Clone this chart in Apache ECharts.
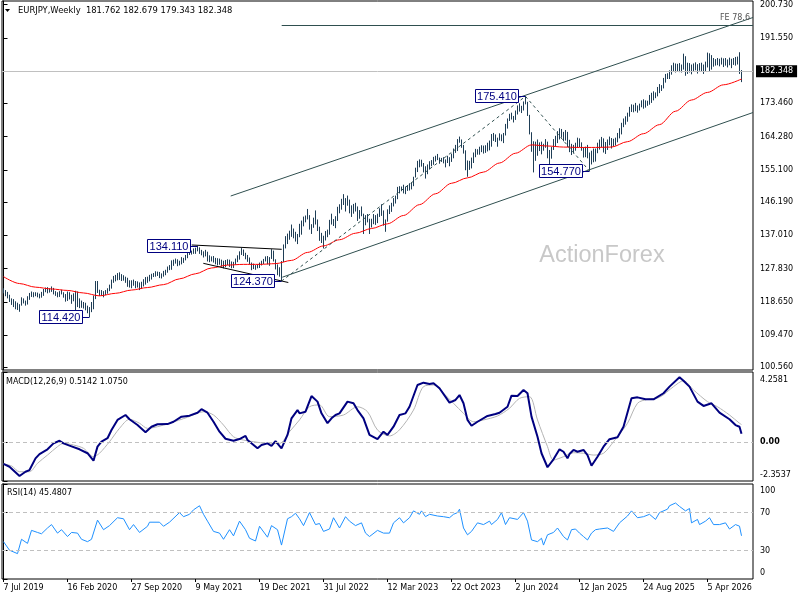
<!DOCTYPE html>
<html><head><meta charset="utf-8">
<script src="https://cdn.jsdelivr.net/npm/echarts@6/dist/echarts.min.js"></script>
<style>html,body{margin:0;padding:0;background:#fff}#c{width:800px;height:600px}</style>
</head><body><div id="c"></div>
<script>
// ---------- data ----------
const symbolName = 'EURJPY,Weekly';
const lastOHLC = ['181.762', '182.679', '179.343', '182.348'];
const lastPrice = 182.348;
const weekTickIdx = [0, 32, 64, 96, 128, 160, 192, 224, 256, 288, 320, 352];
const weekLabels = ['7 Jul 2019', '16 Feb 2020', '27 Sep 2020', '9 May 2021', '19 Dec 2021', '31 Jul 2022',
  '12 Mar 2023', '22 Oct 2023', '2 Jun 2024', '12 Jan 2025', '24 Aug 2025', '5 Apr 2026'];
const priceTicks = [200.730, 191.550, 173.460, 164.280, 155.100, 146.190, 137.010, 127.830, 118.650, 109.470, 100.560];
const macdTicks = [-2.3537, 0, 4.2581];
const rsiTicks = [0, 30, 70, 100];

const highs = [
122.4,121.9,121.4,120.6,119.6,119.4,118.8,118.4,118.0,119.9,
119.6,119.0,120.2,121.1,121.5,121.3,121.3,121.2,120.9,121.4,
122.2,122.6,122.7,122.4,122.9,122.5,121.6,121.3,121.6,122.0,
121.3,120.8,121.5,121.3,120.6,121.0,121.7,121.5,119.6,119.0,
118.6,118.4,117.6,117.2,118.6,120.4,124.4,124.4,122.0,121.9,
121.6,121.9,122.4,123.4,124.8,125.8,126.1,126.6,126.8,126.3,
126.0,125.6,125.3,124.6,124.6,124.8,124.4,124.3,124.0,124.2,
124.9,125.5,125.6,126.1,126.4,126.6,127.1,127.0,126.9,126.5,
127.2,127.5,128.4,128.8,130.1,130.3,130.6,130.4,130.0,131.0,
130.8,131.6,132.6,133.2,132.8,133.4,133.6,134.11,133.7,133.0,
132.6,133.0,132.5,131.5,131.2,131.3,130.8,130.7,130.6,130.3,
130.0,130.2,130.4,130.3,129.8,129.7,130.6,131.5,132.6,133.5,
133.1,132.2,131.6,130.9,129.5,129.2,128.8,129.0,129.5,130.0,
130.5,131.2,131.3,131.0,133.2,132.8,130.4,129.0,128.2,129.9,
134.5,136.8,137.5,138.3,140.0,138.9,138.0,137.4,140.2,141.1,
142.2,142.5,144.3,142.6,140.1,141.9,143.9,141.4,139.4,137.7,
136.9,138.2,138.6,141.3,143.0,141.5,142.3,144.9,145.6,147.1,
148.4,147.3,148.0,146.9,145.3,145.7,146.0,145.0,144.0,145.0,
143.0,142.6,142.9,141.6,141.6,142.9,142.6,143.0,144.5,145.6,
143.9,141.4,144.2,145.3,146.0,147.3,148.0,150.4,150.6,150.5,
151.0,150.5,150.9,151.4,151.6,153.2,155.7,157.6,158.0,157.9,
157.0,156.1,156.6,157.5,157.8,158.7,159.0,159.5,158.5,158.4,
158.6,158.0,159.0,158.6,159.6,161.0,162.0,163.6,164.3,163.5,
162.0,160.5,157.7,157.6,158.5,159.9,160.9,160.8,161.5,161.9,
161.8,161.9,162.6,163.2,165.0,165.3,164.9,164.0,165.2,164.9,
165.3,167.8,169.3,170.6,170.9,170.0,171.5,172.9,173.5,172.8,
174.0,175.41,173.9,170.3,165.5,163.0,162.9,163.5,162.7,162.9,
162.3,163.6,162.9,160.6,161.5,163.6,164.5,165.8,166.6,166.4,
165.6,166.1,165.6,163.4,162.3,162.0,162.6,164.0,163.8,162.7,
161.3,161.5,162.0,159.9,160.4,161.0,161.0,162.6,163.5,164.2,
163.8,162.8,163.5,164.3,163.9,163.7,164.0,165.3,166.6,168.1,
169.3,169.9,170.9,172.5,173.2,173.1,173.6,172.9,173.4,174.3,
174.6,174.3,174.2,175.8,176.4,176.8,176.5,178.0,178.8,178.5,
180.5,181.6,181.8,182.6,184.0,184.7,184.5,184.4,184.6,184.2,
187.2,186.5,184.7,184.6,184.2,184.5,184.8,184.3,184.6,184.7,
184.2,185.0,187.5,187.3,186.8,186.0,185.7,186.0,185.8,186.1,
185.9,186.0,185.6,186.1,185.8,186.0,186.3,186.4,187.6,182.679];

const lows = [
121.0,120.2,119.6,118.6,117.8,117.2,116.6,116.4,115.9,117.6,
118.2,117.6,117.9,119.2,120.0,119.9,120.2,119.9,119.6,119.8,
120.3,121.3,121.0,121.2,121.4,120.7,120.3,119.9,120.0,120.7,
119.8,118.7,118.9,119.3,118.1,118.8,116.3,117.2,116.9,117.0,
116.8,116.3,115.5,114.42,115.8,116.6,119.4,121.1,120.3,120.3,
119.9,120.5,120.9,121.6,122.3,123.9,124.3,124.6,124.7,124.4,
124.5,123.9,122.8,122.6,122.4,123.1,122.4,122.6,121.9,122.2,
122.9,123.4,123.9,124.3,124.8,125.5,125.6,125.8,125.2,125.1,
125.6,126.0,126.7,127.4,127.5,128.6,129.2,128.5,128.7,129.0,
129.4,130.1,130.7,131.6,131.7,131.9,131.9,132.6,131.9,131.5,
130.9,131.2,129.8,129.6,129.8,129.5,129.0,128.7,128.9,128.4,
127.9,128.2,128.8,128.3,127.9,128.0,128.9,129.6,130.3,131.6,
131.3,130.4,129.7,129.1,127.4,127.7,127.5,127.9,128.0,128.7,
129.1,129.8,129.0,128.6,130.5,129.8,127.6,126.0,125.6,124.37,
129.6,133.4,134.6,135.8,136.6,136.2,135.3,134.6,136.5,137.2,
139.5,140.6,141.4,138.6,137.4,139.1,140.0,138.2,135.5,134.9,
133.4,135.6,136.5,137.2,140.0,139.6,139.0,141.0,143.1,144.1,
145.4,143.6,145.2,143.1,142.1,143.0,143.6,141.0,141.6,142.3,
137.4,139.8,140.6,137.4,139.2,140.1,139.9,140.4,142.1,142.4,
139.7,138.0,140.8,142.9,143.5,145.0,145.8,147.0,148.6,149.2,
148.6,148.4,149.3,149.4,149.7,150.6,153.0,154.5,155.8,156.0,
154.4,152.7,153.9,155.2,156.1,156.5,157.4,157.8,156.8,157.3,
156.9,155.8,157.0,156.1,157.3,158.3,159.8,160.3,162.6,161.2,
159.6,155.0,153.2,155.1,155.5,157.0,158.6,159.3,159.3,160.0,
159.6,159.8,160.2,160.5,161.5,163.1,162.8,161.5,163.2,163.0,
162.5,164.6,166.5,168.6,169.0,168.2,168.9,170.4,171.2,170.8,
171.5,173.2,170.0,164.9,160.1,154.4,157.6,159.0,160.3,159.4,
160.4,161.2,158.3,155.3,158.2,160.6,161.5,162.5,163.5,164.0,
163.0,163.2,161.4,160.0,159.2,159.6,160.4,161.2,161.4,160.4,
158.5,158.6,158.3,154.77,156.6,157.2,157.4,159.7,160.7,161.4,
159.9,159.5,160.6,161.9,161.0,161.6,161.8,162.7,163.8,164.9,
166.9,167.6,168.4,169.8,171.1,171.0,171.3,170.9,171.5,172.4,
172.0,172.3,172.8,173.1,173.6,174.3,174.9,175.4,176.3,176.9,
177.6,179.2,180.2,180.2,181.4,182.2,182.0,182.3,182.1,182.0,
182.8,181.1,181.6,182.0,181.5,182.3,182.6,181.7,182.5,182.2,
181.6,182.4,183.4,182.2,182.8,183.6,183.9,184.0,183.7,184.2,
183.5,183.9,183.4,184.0,183.2,184.1,183.9,184.2,181.6,179.343];

// red moving average, read every 8 weeks: [week, value]
const maPoints = [[0,125.6],[8,123.7],[16,122.7],[24,122.2],[32,121.8],[40,121.1],[48,120.3],[56,121.0],
[64,121.9],[72,122.6],[80,123.4],[88,125.0],[96,126.4],[104,128.0],[112,128.8],[120,129.0],[128,129.0],
[136,129.2],[144,130.1],[152,132.3],[160,134.1],[168,135.8],[176,137.6],[184,138.9],[192,140.2],[200,142.5],
[208,145.5],[216,148.5],[224,151.4],[232,152.9],[240,154.5],[248,157.0],[256,159.7],[264,162.0],[272,161.7],
[280,161.4],[288,161.3],[296,161.3],[304,161.4],[312,162.9],[320,165.1],[328,167.6],[336,171.3],[344,174.4],
[352,176.5],[360,178.6],[369,180.2]];

// MACD main line [week, value]
const macdPoints = [[0,-1.32],[3,-1.49],[8,-2.05],[11,-1.79],[13,-1.69],[16,-0.98],[18,-0.72],[22,-0.43],
[25,-0.07],[28,0.09],[30,-0.07],[33,-0.21],[38,-0.43],[42,-0.67],[45,-1.12],[47,-0.27],[49,0.03],[52,0.24],
[54,0.74],[57,1.35],[61,1.65],[63,1.39],[67,1.04],[71,0.60],[74,0.94],[77,1.09],[82,1.10],[85,1.24],[89,1.55],
[93,1.61],[97,1.79],[99,2.00],[102,1.79],[105,1.24],[108,0.64],[111,0.21],[115,0.09],[118,0.19],[121,0.38],
[122,0.13],[127,-0.37],[129,-0.17],[132,-0.07],[134,-0.23],[136,0.07],[137,0.13],[139,-0.37],[142,0.44],
[144,1.45],[147,1.95],[148,1.75],[151,1.85],[154,2.80],[157,2.46],[159,1.75],[162,1.15],[164,1.45],[166,1.65],
[168,1.75],[172,2.46],[175,2.36],[177,1.95],[180,1.45],[183,0.44],[187,0.18],[190,0.64],[192,0.44],[195,0.94],
[198,1.65],[201,1.75],[203,2.15],[204,2.26],[207,3.47],[210,3.61],[213,3.53],[215,3.57],[218,3.27],[223,2.40],
[226,2.56],[228,2.86],[230,2.36],[232,1.35],[234,1.00],[237,1.24],[242,1.59],[246,1.71],[248,1.79],[252,2.15],
[254,2.82],[257,2.80],[260,3.17],[262,2.97],[264,1.55],[267,0.33],[269,-0.67],[272,-1.52],[275,-1.04],
[278,-0.43],[280,-0.58],[282,-0.98],[283,-0.72],[285,-0.47],[287,-0.58],[290,-0.47],[292,-0.78],[294,-1.43],
[297,-0.88],[300,-0.27],[303,0.18],[307,0.30],[310,0.94],[314,2.66],[317,2.72],[321,2.60],[325,2.60],
[330,2.97],[333,3.37],[338,3.94],[340,3.73],[343,3.37],[347,2.46],[350,2.20],[354,2.36],[358,1.79],[363,1.39],
[366,1.04],[368,0.94],[369,0.5142]];

// MACD signal line [week, value]
const signalPoints = [[0,-1.32],[4,-1.44],[8,-1.79],[13,-1.79],[17,-1.28],[22,-0.78],[27,-0.27],[30,-0.07],
[35,-0.17],[40,-0.37],[45,-0.88],[48,-0.67],[53,0.03],[58,0.84],[63,1.39],[68,1.15],[72,0.84],[77,0.94],
[83,1.15],[92,1.51],[100,1.85],[105,1.65],[110,1.04],[115,0.33],[120,0.13],[125,0.03],[132,-0.07],[138,-0.07],
[143,0.64],[148,1.35],[153,2.15],[158,2.26],[163,1.55],[170,1.65],[177,2.15],[182,1.85],[187,0.74],[193,0.38],
[198,0.75],[205,1.95],[210,3.37],[215,3.47],[220,2.97],[225,2.36],[230,1.75],[235,1.24],[240,1.35],[247,1.59],
[253,2.06],[258,2.66],[263,2.76],[267,1.35],[272,-0.27],[275,-1.08],[280,-0.88],[285,-0.64],[290,-0.67],
[295,-0.78],[300,-0.67],[305,0.03],[312,1.15],[317,2.36],[322,2.60],[328,2.72],[335,3.37],[340,3.73],
[345,3.17],[352,2.46],[357,2.15],[363,1.65],[368,1.15],[369,1.075]];

// RSI(14) [week, value]
const rsiPoints = [[0,39.3],[3,30.3],[7,26.7],[9,41.8],[12,37.5],[14,51.2],[17,49.0],[19,47.6],[22,53.7],
[24,57.3],[27,48.3],[29,51.9],[32,44.7],[34,49.0],[37,48.3],[39,41.8],[42,39.3],[44,41.8],[47,62.0],[50,51.9],
[53,56.2],[57,64.5],[60,63.4],[63,51.9],[65,57.3],[68,49.0],[72,55.5],[73,59.8],[78,59.8],[80,55.5],[83,59.8],
[88,69.9],[90,65.6],[93,68.1],[95,72.8],[98,77.1],[100,68.1],[102,60.9],[105,50.1],[108,48.3],[110,41.8],
[113,51.9],[115,45.4],[118,60.9],[121,51.9],[123,42.9],[126,40.0],[128,55.5],[132,44.0],[134,56.2],[137,51.9],
[139,35.7],[142,63.4],[144,65.6],[146,69.2],[148,63.4],[150,56.2],[153,69.9],[156,57.3],[158,58.4],[160,50.1],
[163,52.6],[165,64.5],[168,53.7],[171,65.6],[173,60.9],[176,56.2],[179,59.1],[181,48.3],[183,44.7],[187,51.2],
[190,48.3],[193,48.3],[195,59.1],[198,64.5],[200,59.1],[203,64.5],[205,71.7],[208,68.1],[209,71.7],[211,65.6],
[213,68.1],[217,66.3],[220,65.6],[223,64.5],[225,68.1],[227,69.9],[228,73.5],[230,53.7],[232,46.5],[234,50.1],
[237,59.1],[240,57.3],[243,60.9],[244,57.3],[247,62.7],[249,69.9],[251,57.3],[253,64.5],[257,62.7],[260,69.9],
[262,60.9],[264,41.1],[267,39.3],[269,42.9],[270,35.7],[272,46.5],[275,49.0],[277,53.7],[280,44.7],[282,41.1],
[284,51.9],[286,52.6],[288,48.3],[290,44.7],[292,41.1],[294,48.3],[296,51.9],[298,52.6],[302,53.7],[305,50.1],
[308,59.1],[312,66.3],[314,71.7],[317,64.5],[320,65.6],[323,68.1],[326,62.7],[328,69.9],[332,73.5],[333,77.1],
[336,80.0],[338,76.4],[341,71.7],[343,74.2],[344,59.1],[347,62.7],[348,57.3],[351,60.9],[353,64.5],[355,57.3],
[358,57.3],[361,59.1],[363,52.6],[366,57.3],[367,57.0],[368,55.6],[369,45.4807]];

// swing labels: [week, price]
const pivotPoints = [[43,114.42],[97,134.11],[139,124.37],[261,175.41],[293,154.77]];
// drawn objects in data space: [[week, price],[week, price]]
const channelLines = [[[113.6,147.88],[374.75,197.2]], [[139.4,125.45],[374.75,170.95]]];
const triangleLines = [[[94.1,134.35],[139.1,133.16]], [[99.9,129.29],[142.4,123.99]]];
const swingLines = [[[139,124.37],[261,175.41]], [[261,175.41],[293,154.77]]];
const feLevel = [[139.1,195.12],[374.75,195.12]];
const feText = 'FE 78.6';

// ---------- chart ----------
const X_MIN = -0.75, X_MAX = 374.75;
const FONT = 'DejaVu Sans';
const chart = echarts.init(document.getElementById('c'), null, {renderer: 'canvas', width: 800, height: 600});

function seg(pair, style) {
  return [{coord: pair[0], lineStyle: style}, {coord: pair[1]}];
}
const slate = {color: '#2f4f4f', width: 1, type: 'solid'};
const blackLn = {color: '#000', width: 1, type: 'solid'};
const dashLn = {color: '#2f4f4f', width: 1, type: [3, 3]};

const markLines = [
  {yAxis: lastPrice, lineStyle: {color: '#c0c0c0', width: 1, type: 'solid'},
   label: {show: true, position: 'end', formatter: lastPrice.toFixed(3), color: '#fff', backgroundColor: '#000',
     padding: [2, 4, 2, 4], fontSize: 8, fontFamily: FONT, distance: 3}},
  [{coord: feLevel[0], lineStyle: {color: '#2f4f4f', width: 1, type: 'solid'},
    label: {show: true, position: 'insideEndTop', formatter: feText, color: '#555', fontSize: 8, fontFamily: FONT, distance: 3}},
   {coord: feLevel[1]}],
  ...channelLines.map(p => seg(p, slate)),
  ...triangleLines.map(p => seg(p, blackLn)),
  ...swingLines.map(p => seg(p, dashLn))
];

const axisTxt = {fontSize: 8, fontFamily: FONT, color: '#000'};

const option = {
  animation: false,
  textStyle: {fontFamily: FONT},
  grid: [
    {left: 2, right: 47, top: 1, height: 369, show: true, borderColor: '#000', borderWidth: 1},
    {left: 2, right: 47, top: 372, height: 109, show: true, borderColor: '#000', borderWidth: 1},
    {left: 2, right: 47, top: 484, height: 95, show: true, borderColor: '#000', borderWidth: 1}
  ],
  xAxis: [
    {type: 'value', gridIndex: 0, min: X_MIN, max: X_MAX, show: false},
    {type: 'value', gridIndex: 1, min: X_MIN, max: X_MAX, show: false},
    {type: 'value', gridIndex: 2, min: X_MIN, max: X_MAX, position: 'bottom',
      axisLine: {show: false}, splitLine: {show: false},
      axisTick: {show: true, length: 3, customValues: weekTickIdx, lineStyle: {color: '#000'}},
      axisLabel: Object.assign({show: true, customValues: weekTickIdx, align: 'left', margin: 5,
        formatter: v => weekLabels[weekTickIdx.indexOf(v)]}, axisTxt)}
  ],
  yAxis: [
    {type: 'value', gridIndex: 0, position: 'right', min: 99.82, max: 201.75,
      axisLine: {show: true, lineStyle: {color: '#000'}}, splitLine: {show: false},
      axisTick: {show: true, length: 4, customValues: priceTicks, lineStyle: {color: '#000'}},
      axisLabel: Object.assign({customValues: priceTicks, margin: 7, formatter: v => v.toFixed(3)}, axisTxt)},
    {type: 'value', gridIndex: 1, position: 'right', min: macdTicks[0], max: macdTicks[2],
      axisLine: {show: true, lineStyle: {color: '#000'}}, splitLine: {show: false},
      axisTick: {show: true, length: 4, customValues: macdTicks, lineStyle: {color: '#000'}},
      axisLabel: Object.assign({customValues: macdTicks, margin: 7,
        formatter: v => v === macdTicks[2] ? '{t|' + v.toFixed(4) + '}' : (v === macdTicks[0] ? '{b|' + v.toFixed(4) + '}' : '{z|0.00}'),
        rich: {t: Object.assign({padding: [16, 0, 0, 0]}, axisTxt), b: Object.assign({padding: [0, 0, 12, 0]}, axisTxt),
               z: Object.assign({fontWeight: 'bold'}, axisTxt)}}, axisTxt)},
    {type: 'value', gridIndex: 2, position: 'right', min: 0, max: 100,
      axisLine: {show: true, lineStyle: {color: '#000'}}, splitLine: {show: false},
      axisTick: {show: true, length: 4, customValues: rsiTicks, lineStyle: {color: '#000'}},
      axisLabel: Object.assign({customValues: rsiTicks, margin: 7,
        formatter: v => v === 100 ? '{t|100}' : (v === 0 ? '{b|0}' : String(v)),
        rich: {t: Object.assign({padding: [13, 0, 0, 0]}, axisTxt), b: Object.assign({padding: [0, 0, 13, 0]}, axisTxt)}}, axisTxt)}
  ],
  graphic: [
    {type: 'text', x: 602, y: 256, z: -10, silent: true,
      style: {text: 'ActionForex', font: '23.5px "Liberation Sans"', fill: '#c8c8c8', align: 'center', verticalAlign: 'middle', textAlign: 'center', textVerticalAlign: 'middle'}},
    {type: 'polygon', shape: {points: [[5, 9], [10, 9], [7.5, 12]]}, style: {fill: '#000'}},
    {type: 'text', x: 18, y: 11, style: {text: symbolName + '  ' + lastOHLC.join(' '), font: '8.4px "DejaVu Sans"', fill: '#000', verticalAlign: 'middle', textVerticalAlign: 'middle'}},
    {type: 'text', x: 6, y: 381.5, style: {text: 'MACD(12,26,9) ' + macdPoints[macdPoints.length - 1][1].toFixed(4) + ' ' + signalPoints[signalPoints.length - 1][1].toFixed(4), font: '8px "DejaVu Sans"', fill: '#000', verticalAlign: 'middle', textVerticalAlign: 'middle'}},
    {type: 'text', x: 7, y: 492.5, style: {text: 'RSI(14) ' + rsiPoints[rsiPoints.length - 1][1].toFixed(4), font: '8px "DejaVu Sans"', fill: '#000', verticalAlign: 'middle', textVerticalAlign: 'middle'}}
  ],
  series: [
    {type: 'custom', name: 'bars', xAxisIndex: 0, yAxisIndex: 0, z: 2,
      data: highs.map((h, i) => [i, lows[i], h]),
      encode: {x: 0, y: [1, 2]},
      renderItem: (params, api) => {
        const lo = api.coord([api.value(0), api.value(1)]);
        const hi = api.coord([api.value(0), api.value(2)]);
        return {type: 'line', shape: {x1: lo[0], y1: lo[1], x2: hi[0], y2: hi[1]},
          style: {stroke: '#1f3e56', lineWidth: 1}};
      }},
    {type: 'line', name: 'MA', xAxisIndex: 0, yAxisIndex: 0, z: 3, data: maPoints, showSymbol: false, symbol: 'none',
      smooth: 0.3, smoothMonotone: 'x', lineStyle: {color: '#ff0000', width: 1},
      markLine: {silent: true, symbol: ['none', 'none'], label: {show: false}, animation: false, data: markLines}},
    {type: 'custom', name: 'pivots', xAxisIndex: 0, yAxisIndex: 0, z: 10,
      data: pivotPoints, encode: {x: 0, y: 1},
      renderItem: (params, api) => {
        const p = api.coord([api.value(0), api.value(1)]);
        const txt = api.value(1).toFixed(3);
        const py = Math.round(p[1]) + 0.5;
        const right = Math.round(p[0]) - 8;
        const bx = right - 43, by = Math.round(p[1]) - 7;
        return {type: 'group', children: [
          {type: 'line', shape: {x1: right, y1: py, x2: p[0], y2: py}, style: {stroke: '#000080', lineWidth: 1}},
          {type: 'rect', shape: {x: bx + 0.5, y: by + 0.5, width: 43, height: 13}, style: {fill: '#fff', stroke: '#000080', lineWidth: 1}},
          {type: 'text', x: bx + 22, y: by + 7.5, style: {text: txt, fill: '#000080', font: '11px "Liberation Sans"',
            align: 'center', verticalAlign: 'middle', textAlign: 'center', textVerticalAlign: 'middle'}}
        ]};
      }},
    {type: 'line', name: 'MACD', xAxisIndex: 1, yAxisIndex: 1, data: macdPoints, symbol: 'none', z: 4,
      lineStyle: {color: '#000080', width: 2},
      markLine: {silent: true, symbol: ['none', 'none'], label: {show: false}, animation: false,
        data: [{yAxis: 0, lineStyle: {color: '#c0c0c0', type: [4, 3], width: 1}}]}},
    {type: 'line', name: 'Signal', xAxisIndex: 1, yAxisIndex: 1, data: signalPoints, symbol: 'none', z: 3,
      smooth: 0.3, lineStyle: {color: '#b4b4b4', width: 1}},
    {type: 'line', name: 'RSI', xAxisIndex: 2, yAxisIndex: 2, data: rsiPoints, symbol: 'none', z: 4,
      lineStyle: {color: '#1e90ff', width: 1},
      markLine: {silent: true, symbol: ['none', 'none'], label: {show: false}, animation: false,
        data: [{yAxis: 70, lineStyle: {color: '#c0c0c0', type: [4, 3], width: 1}},
               {yAxis: 30, lineStyle: {color: '#c0c0c0', type: [4, 3], width: 1}}]}}
  ]
};
chart.setOption(option);
</script>
</body></html>
